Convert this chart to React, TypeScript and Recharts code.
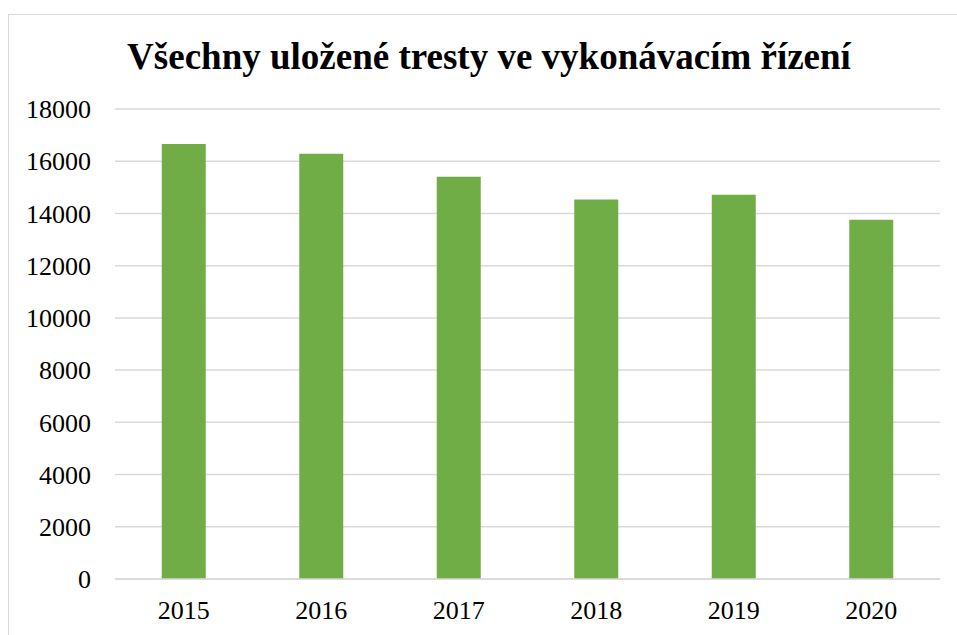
import React from 'react';
import { BarChart, Bar, XAxis, YAxis, CartesianGrid } from 'recharts';

const years = ['2015', '2016', '2017', '2018', '2019', '2020'];
const tresty = [16660, 16290, 15410, 14530, 14720, 13760];
const yTicks = [0, 2000, 4000, 6000, 8000, 10000, 12000, 14000, 16000, 18000];

const chartData = years.map((rok, i) => ({ rok, tresty: tresty[i] }));

const fontSerif = '"Liberation Serif", Tinos, "Times New Roman"';

const App: React.FC = () => {
  return (
    <div
      style={{
        position: 'absolute',
        top: 0,
        left: 0,
        width: 957,
        height: 635,
        background: '#fff',
        overflow: 'hidden',
        fontFamily: fontSerif,
      }}
    >
      {/* chart frame, only the top and left edges are visible */}
      <div
        style={{
          position: 'absolute',
          left: 8,
          top: 14,
          width: 980,
          height: 660,
          border: '1px solid #d9d9d9',
        }}
      />
      <div
        style={{
          position: 'absolute',
          left: 8,
          top: 34,
          width: 962,
          textAlign: 'center',
          fontFamily: fontSerif,
          fontWeight: 'bold',
          fontSize: 37,
          lineHeight: '46px',
          color: '#000',
        }}
      >
        Všechny uložené tresty ve vykonávacím řízení
      </div>
      <BarChart
        width={957}
        height={635}
        data={chartData}
        margin={{ top: 109, right: 17, left: 0, bottom: 0 }}
        barCategoryGap="34%"
        style={{ position: 'absolute', top: 0, left: 0 }}
      >
        <CartesianGrid vertical={false} stroke="#d9d9d9" strokeWidth={1.5} />
        <XAxis
          dataKey="rok"
          axisLine={{ stroke: '#d9d9d9', strokeWidth: 1.5 }}
          tickLine={false}
          tickSize={0}
          tickMargin={22}
          height={56}
          tick={{ fill: '#000', fontSize: 26, fontFamily: fontSerif }}
        />
        <YAxis
          width={115}
          domain={[0, 18000]}
          ticks={yTicks}
          interval={0}
          axisLine={false}
          tickLine={false}
          tickSize={0}
          tickMargin={24}
          tick={{ fill: '#000', fontSize: 26, fontFamily: fontSerif }}
        />
        <Bar dataKey="tresty" fill="#70ad47" isAnimationActive={false} />
      </BarChart>
    </div>
  );
};

export default App;
